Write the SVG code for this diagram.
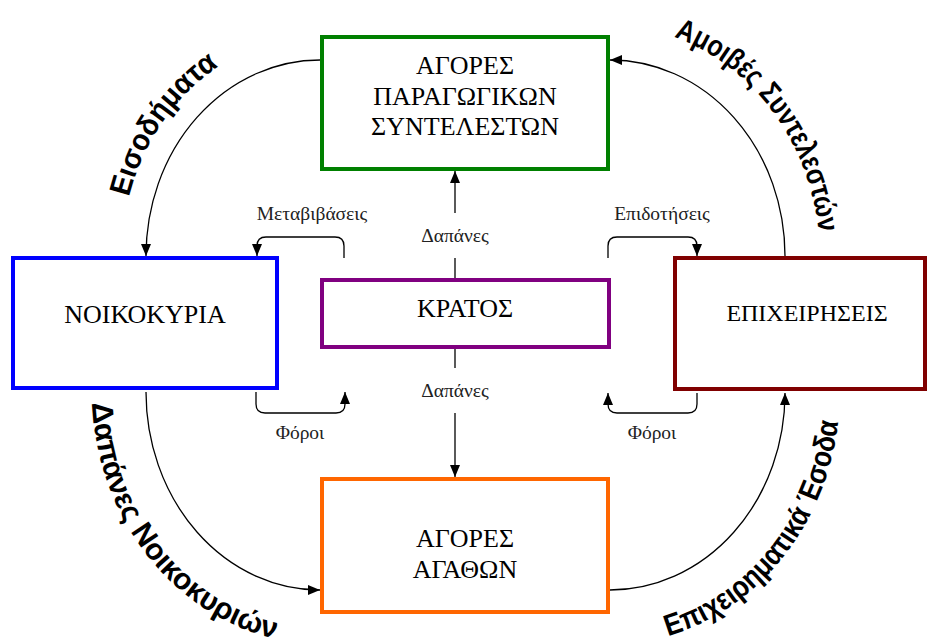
<svg xmlns="http://www.w3.org/2000/svg" width="928" height="638" viewBox="0 0 928 638">
<style>
.box{fill:#fff;stroke-width:4}
.bt{font-family:"Liberation Serif","Times New Roman",serif;font-size:26px;fill:#000;text-anchor:middle}
.lb{font-family:"Liberation Serif","Times New Roman",serif;font-size:19.5px;fill:#222;text-anchor:middle}
.cv{font-family:"Liberation Sans",Arial,sans-serif;font-size:30px;font-weight:bold;fill:#000}
.ln{fill:none;stroke:#000;stroke-width:1.3}
</style>
<defs>
<marker id="ah" markerWidth="12" markerHeight="12" refX="12" refY="6" orient="auto" markerUnits="userSpaceOnUse">
<path d="M0,1 L12,6 L0,11 Z" fill="#000"/>
</marker>
<path id="p1" d="M129,197 A200 222 0 0 1 300,36"/>
<path id="p2" d="M674,37 A212 233 0 0 1 820,258"/>
<path id="p3" d="M92,403 A230 254 0 0 0 302,643"/>
<path id="p4" d="M668,636 A232 254 0 0 0 840,391"/>
</defs>
<rect width="928" height="638" fill="#fff"/>
<g id="connectors">
<path class="ln" d="M320,60 A174 196 0 0 0 146,256" marker-end="url(#ah)"/>
<path class="ln" d="M785,256 A175 196 0 0 0 610,60" marker-end="url(#ah)"/>
<path class="ln" d="M146,392 A174 198 0 0 0 320,590" marker-end="url(#ah)"/>
<path class="ln" d="M610,590 A175 197 0 0 0 785,393" marker-end="url(#ah)"/>
<path class="ln" d="M344,258 L344,246 Q344,237 335,237 L266,237 Q257,237 257,246 L257,256" marker-end="url(#ah)"/>
<path class="ln" d="M608,258 L608,246 Q608,237 617,237 L688,237 Q697,237 697,246 L697,256" marker-end="url(#ah)"/>
<path class="ln" d="M256,392 L256,404 Q256,413 265,413 L336,413 Q345,413 345,404 L345,392" marker-end="url(#ah)"/>
<path class="ln" d="M697,393 L697,404 Q697,413 688,413 L617,413 Q608,413 608,404 L608,393" marker-end="url(#ah)"/>
<path class="ln" d="M455,280 L455,258"/>
<path class="ln" d="M455,213 L455,171" marker-end="url(#ah)"/>
<path class="ln" d="M455,347 L455,368"/>
<path class="ln" d="M455,413 L455,477" marker-end="url(#ah)"/>
<text class="lb" x="455" y="242">Δαπάνες</text>
<text class="lb" x="455" y="397">Δαπάνες</text>
<text class="lb" x="312" y="220">Μεταβιβάσεις</text>
<text class="lb" x="662" y="220">Επιδοτήσεις</text>
<text class="lb" x="300" y="439">Φόροι</text>
<text class="lb" x="652" y="439">Φόροι</text>
<text class="cv"><textPath href="#p1" textLength="162" lengthAdjust="spacingAndGlyphs">Εισοδήματα</textPath></text>
<text class="cv"><textPath href="#p2" textLength="256" lengthAdjust="spacingAndGlyphs">Αμοιβές Συντελεστών</textPath></text>
<text class="cv"><textPath href="#p3" textLength="320" lengthAdjust="spacingAndGlyphs">Δαπάνες Νοικοκυριών</textPath></text>
<text class="cv"><textPath href="#p4" textLength="290" lengthAdjust="spacingAndGlyphs">Επιχειρηματικά Έσοδα</textPath></text>
</g>
<g id="agores-paragogikon">
<rect class="box" x="322" y="37" width="286" height="132" stroke="#008000"/>
<text class="bt" x="465" y="74">ΑΓΟΡΕΣ</text>
<text class="bt" x="465" y="105">ΠΑΡΑΓΩΓΙΚΩΝ</text>
<text class="bt" x="465" y="135">ΣΥΝΤΕΛΕΣΤΩΝ</text>
</g>
<g id="noikokyria">
<rect class="box" x="13" y="258" width="264" height="130" stroke="#0000ff"/>
<text class="bt" x="145" y="323">ΝΟΙΚΟΚΥΡΙΑ</text>
</g>
<g id="kratos">
<rect class="box" x="322" y="280" width="287" height="67" stroke="#800080"/>
<text class="bt" x="465" y="317">ΚΡΑΤΟΣ</text>
</g>
<g id="epixeiriseis">
<rect class="box" x="675" y="258" width="250" height="131" stroke="#800000"/>
<text class="bt" x="807" y="321" style="font-size:24px">ΕΠΙΧΕΙΡΗΣΕΙΣ</text>
</g>
<g id="agores-agathon">
<rect class="box" x="322" y="479" width="286" height="133" stroke="#ff6600"/>
<text class="bt" x="465" y="547">ΑΓΟΡΕΣ</text>
<text class="bt" x="465" y="578">ΑΓΑΘΩΝ</text>
</g>
</svg>
